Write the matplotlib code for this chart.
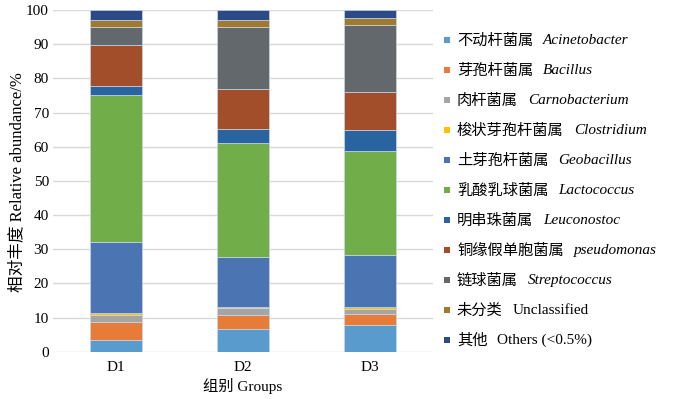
import matplotlib
matplotlib.use("Agg")
import matplotlib.pyplot as plt
from matplotlib.patches import Rectangle
import numpy as np

plt.rcParams['font.family'] = ['Liberation Serif', 'Noto Sans CJK SC', 'DejaVu Sans']

groups = ['D1', 'D2', 'D3']
taxa_cn = ['不动杆菌属', '芽孢杆菌属', '肉杆菌属', '梭状芽孢杆菌属', '土芽孢杆菌属',
           '乳酸乳球菌属', '明串珠菌属', '铜缘假单胞菌属', '链球菌属', '未分类', '其他']
taxa_latin = ['Acinetobacter', 'Bacillus', 'Carnobacterium', 'Clostridium', 'Geobacillus',
              'Lactococcus', 'Leuconostoc', 'pseudomonas', 'Streptococcus',
              'Unclassified', 'Others (<0.5%)']
latin_italic = [True] * 9 + [False, False]

acinetobacter = [3.4, 6.7, 7.7]
bacillus = [5.4, 4.0, 3.3]
carnobacterium = [1.9, 2.0, 1.4]
clostridium = [0.7, 0.5, 0.7]
geobacillus = [20.8, 14.6, 15.1]
lactococcus = [42.8, 33.4, 30.6]
leuconostoc = [2.7, 3.9, 6.1]
pseudomonas = [12.0, 11.7, 11.1]
streptococcus = [5.4, 18.3, 19.5]
unclassified = [2.1, 2.1, 2.1]
others = [2.8, 2.8, 2.4]

series = [acinetobacter, bacillus, carnobacterium, clostridium, geobacillus,
          lactococcus, leuconostoc, pseudomonas, streptococcus, unclassified, others]
colors = ['#5A9BCD', '#E77C38', '#A5A5A5', '#FFC000', '#4A74B2', '#71AD48',
          '#2A64A0', '#A24E2B', '#62686B', '#A07A2F', '#2C4A88']

W, H = 700, 399
fig = plt.figure(figsize=(W / 100, H / 100), dpi=100)
ax = fig.add_axes([53 / W, 1 - 351.7 / H, 380 / W, 341.7 / H])

x = np.arange(len(groups))
bottom = np.zeros(len(groups))
for vals, c in zip(series, colors):
    ax.bar(x, vals, width=0.41, bottom=bottom, color=c, edgecolor='#C9D6E6',
           linewidth=0.5, zorder=3)
    bottom += np.array(vals)

ax.set_xlim(-0.5, 2.5)
ax.set_ylim(0, 100)
ax.set_yticks(np.arange(0, 101, 10))
ax.yaxis.grid(True, color='#D9D9D9', linewidth=1.0, zorder=0)
ax.set_axisbelow(True)
for s in ax.spines.values():
    s.set_visible(False)
ax.tick_params(axis='both', length=0, labelsize=11, colors='black')
ax.tick_params(axis='y', pad=3)
ax.tick_params(axis='x', pad=7)
ax.set_xticks(x)
ax.set_xticklabels(groups)

fig.text(243 / W, 1 - 386 / H, '组别 Groups', ha='center', va='center', fontsize=11)
fig.text(17 / W, 1 - 182 / H, '相对丰度 Relative abundance/%', ha='center', va='center',
         rotation=90, fontsize=12)

# legend drawn manually (Chinese upright + Latin italic)
renderer = fig.canvas.get_renderer()
row0, step = 40.7, 30.0
for i, (cn, la, it, c) in enumerate(zip(taxa_cn, taxa_latin, latin_italic, colors)):
    yc = row0 + step * i
    fig.patches.append(Rectangle((444 / W, 1 - (yc + 2.5) / H), 6.5 / W, 6.5 / H,
                                 transform=fig.transFigure, facecolor=c,
                                 edgecolor='none'))
    t = fig.text(457 / W, 1 - yc / H, cn, ha='left', va='center', fontsize=11)
    bb = t.get_window_extent(renderer=renderer)
    fig.text(bb.x1 / W + 10 / W, 1 - yc / H, la, ha='left', va='center', fontsize=11,
             style='italic' if it else 'normal')

fig.savefig('out.png', dpi=100)
